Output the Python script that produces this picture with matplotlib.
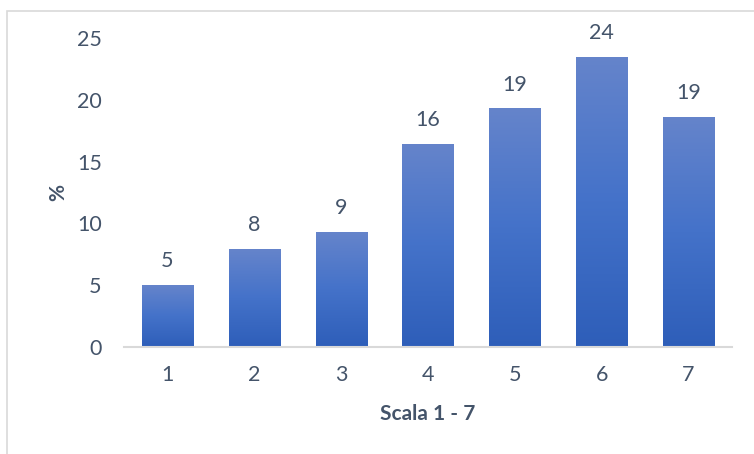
import numpy as np
import matplotlib.pyplot as plt
import matplotlib.patches as patches
from matplotlib.colors import LinearSegmentedColormap

categories = ['1', '2', '3', '4', '5', '6', '7']
values = [5.0, 7.9, 9.3, 16.4, 19.3, 23.5, 18.6]
value_labels = ['5', '8', '9', '16', '19', '24', '19']

plt.rcParams['font.family'] = ['Lato', 'DejaVu Sans']
text_color = '#44546A'

fig = plt.figure(figsize=(7.54, 4.54), dpi=100)
# outer chart frame
fig.patches.append(patches.Rectangle((7/754, -0.1), 1.2, 1 - 11/454 + 0.1, transform=fig.transFigure,
                                     facecolor='none', edgecolor='#D9D9D9', linewidth=1.2))

ax = fig.add_axes([124/754, 107/454, 608/754, 309/454])
x = np.arange(len(categories))
bars = ax.bar(x, values, width=0.59, color='none', edgecolor='none')

# vertical gradient inside each bar
cmap = LinearSegmentedColormap.from_list('grad', ['#2E5EB9', '#4472C9', '#6584CB'])
grad = np.linspace(0, 1, 256).reshape(-1, 1)
for b in bars:
    x0, w, h = b.get_x(), b.get_width(), b.get_height()
    im = ax.imshow(grad, cmap=cmap, origin='lower', aspect='auto',
                   extent=[x0, x0 + w, 0, h], zorder=2)
    im.set_clip_path(b)

for xi, v, lab in zip(x, values, value_labels):
    ax.annotate(lab, (xi, v), xytext=(0, 10), textcoords='offset points',
                ha='center', va='bottom', fontsize=15.5, color=text_color)

ax.set_xlim(-0.5, len(categories) - 0.5)
ax.set_ylim(0, 25)
ax.set_yticks([0, 5, 10, 15, 20, 25])
ax.set_xticks(x)
ax.set_xticklabels(categories)
ax.tick_params(axis='both', length=0, labelsize=15.5, labelcolor=text_color)
ax.tick_params(axis='y', pad=16)
ax.tick_params(axis='x', pad=13)
for s in ['top', 'right', 'left']:
    ax.spines[s].set_visible(False)
ax.spines['bottom'].set_color('#D9D9D9')
ax.spines['bottom'].set_linewidth(1.5)

ax.set_xlabel('Scala 1 - 7', fontsize=15, fontweight='bold', color=text_color, labelpad=14)
ax.set_ylabel('%', fontsize=15, fontweight='bold', color=text_color, labelpad=6)

plt.savefig('out.png', dpi=100)
